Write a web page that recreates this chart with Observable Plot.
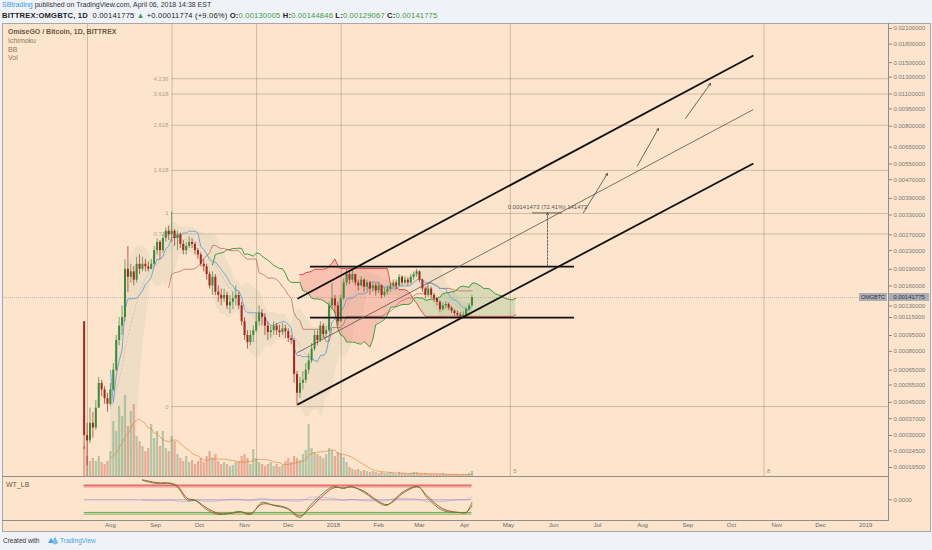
<!DOCTYPE html>
<html><head><meta charset="utf-8">
<script src="https://cdn.jsdelivr.net/npm/d3@7"></script>
<script src="https://cdn.jsdelivr.net/npm/@observablehq/plot@0.6"></script>
<style>
body{margin:0;background:#eff2f7;font-family:"Liberation Sans",Arial,sans-serif;}
#page{position:relative;width:932px;height:550px;overflow:hidden;background:#eff2f7;}
.abs{position:absolute;white-space:nowrap;}
.ln{position:absolute;background:#a7a7a7;}
.g{color:#3f9a3f;}
</style></head><body><div id="page">
<div class="abs" style="left:2px;top:1px;font-size:7px;color:#333"><span style="color:#3d9be0">SBtrading</span> published on TradingView.com, April 06, 2018 14:38 EST</div>
<div class="abs" style="left:2px;top:10.5px;font-size:7.6px;letter-spacing:0.18px;color:#222"><b>BITTREX:OMGBTC, 1D</b>&nbsp; 0.00141775 <span class="g">&#9650;</span> +0.00011774 (+9.06%) <b>O:</b><span class="g">0.00130005</span> <b>H:</b><span class="g">0.00144846</span> <b>L:</b><span class="g">0.00129067</span> <b>C:</b><span class="g">0.00141775</span></div>
<div class="abs" id="panel" style="left:2px;top:23px;width:928px;height:508px;background:#fce5cc;"></div>
<div class="abs" id="vol" style="left:2px;top:386px;"></div>
<div class="abs" id="main" style="left:2px;top:23px;"></div>
<div class="abs" id="ind" style="left:2px;top:476px;"></div>
<div class="ln" style="left:2px;top:23px;width:929px;height:1px"></div>
<div class="ln" style="left:2px;top:23px;width:1px;height:508px"></div>
<div class="ln" style="left:930px;top:23px;width:1px;height:508px"></div>
<div class="ln" style="left:2px;top:531px;width:929px;height:1px"></div>
<div class="ln" style="left:888px;top:23px;width:1px;height:498px;background:#8f8f8f"></div>
<div class="ln" style="left:2px;top:476px;width:887px;height:1px;background:#8f8f8f"></div>
<div class="ln" style="left:2px;top:520px;width:887px;height:1px;background:#8f8f8f"></div>
<div class="abs" style="left:8px;top:28px;font-size:7px;color:#6b5846;font-weight:bold">OmiseGO / Bitcoin, 1D, BITTREX</div>
<div class="abs" style="left:8px;top:37px;font-size:7px;color:#8a7866">Ichimoku</div>
<div class="abs" style="left:8px;top:45.5px;font-size:7px;color:#8a7866">BB</div>
<div class="abs" style="left:8px;top:54px;font-size:7px;color:#8a7866">Vol</div>
<div class="abs" style="left:6px;top:481px;font-size:7px;color:#6b5846">WT_LB</div>
<div class="abs" id="symbox" style="left:859px;width:28px;height:8px;background:#acaeb6;color:#333;font-size:5.5px;line-height:8px;text-align:center">OMGBTC</div>
<div class="abs" id="pricebox" style="left:889px;width:40px;height:8px;background:#acaeb6;color:#333;font-size:6px;line-height:8px;text-align:center">0.00141775</div>
<div class="abs" style="left:3px;top:537px;font-size:6.5px;color:#333">Created with</div>
<svg class="abs" style="left:47px;top:536px" width="12" height="9" viewBox="0 0 12 9"><path d="M1 7 L4 2 L6 5 L8 1 L11 7 Z" fill="#4ba3e0"/><circle cx="8" cy="6" r="2.5" fill="#7cc1ee"/></svg>
<div class="abs" style="left:60px;top:537px;font-size:6.5px;color:#4ba3e0">TradingView</div>
</div>
<script>
// ---------- data (prices in millionths of BTC) ----------
const firstBarDay = -171;   // days from 2018-01-01 of first 2-day bar
const barStep = 2;
const firstOpen = 1100;
const closes = [300,280,350,330,420,560,520,470,440,520,
 650,900,1050,1150,1900,1750,1850,1700,2000,1900,
 2000,1950,1900,2000,2300,2500,2300,2600,2800,2700,
 2800,2600,2700,2450,2300,2400,2500,2450,2300,2200,
 2000,1950,1800,1600,1750,1500,1450,1400,1450,1300,
 1350,1400,1450,1300,1100,950,880,950,1000,1100,
 1200,1150,1050,980,1000,1050,1000,980,1020,990,
 920,900,620,500,560,580,650,720,820,950,
 900,1050,960,1000,1300,1400,1300,1100,1400,1650,
 1800,1700,1800,1650,1600,1700,1580,1650,1550,1600,
 1520,1600,1450,1500,1550,1600,1650,1600,1750,1650,
 1700,1650,1750,1800,1850,1700,1550,1450,1550,1450,
 1400,1350,1250,1300,1320,1270,1230,1200,1180,1160,
 1180,1250,1300,1417.75];
const highs = [1100,350,420,400,460,600,580,540,500,560,
 700,950,1150,1300,2100,2400,2000,1950,2150,2200,
 2150,2100,2050,2100,2400,2600,2550,2700,2900,2950,
 3400,2850,2800,2750,2550,2500,2650,2600,2500,2350,
 2250,2100,2000,1850,1850,1800,1600,1550,1550,1500,
 1450,1500,1600,1500,1350,1150,1000,1000,1050,1200,
 1300,1250,1200,1100,1050,1100,1080,1060,1080,1060,
 1020,950,920,640,600,640,700,780,870,1000,
 1000,1100,1080,1050,1350,1640,1450,1350,1450,1720,
 1900,1850,1880,1800,1700,1760,1720,1700,1680,1650,
 1640,1660,1620,1560,1600,1650,1700,1700,1800,1780,
 1760,1740,1800,1850,1900,1870,1720,1580,1600,1580,
 1480,1420,1370,1340,1360,1340,1290,1250,1230,1210,
 1220,1280,1330,1448.46];
const lows = [250,200,270,290,320,420,480,440,400,430,
 510,640,850,950,1100,1500,1650,1600,1650,1800,
 1850,1850,1850,1900,1950,2200,2100,2250,2500,2550,
 2500,2400,2300,2350,2200,2200,2350,2350,2200,2100,
 1950,1850,1700,1550,1450,1450,1350,1300,1350,1250,
 1200,1250,1300,1250,1050,900,820,850,880,980,
 1050,1050,950,900,920,950,950,930,950,920,
 880,860,560,430,470,520,560,620,700,800,
 850,880,920,920,980,1250,1200,1050,1100,1380,
 1600,1620,1650,1600,1520,1580,1500,1530,1450,1500,
 1440,1480,1400,1420,1460,1500,1560,1540,1580,1600,
 1620,1600,1620,1700,1750,1650,1500,1400,1420,1400,
 1350,1300,1220,1230,1260,1240,1200,1170,1150,1140,
 1140,1160,1230,1290.67];
const volumes = [30,20,15,18,15,20,14,12,15,25,
 55,45,70,60,81,50,65,72,40,35,
 30,25,28,52,38,45,30,45,28,25,
 40,35,22,18,15,20,14,16,12,15,
 18,14,20,25,19,22,15,12,14,12,
 10,11,14,15,20,22,18,12,27,18,
 14,12,10,12,14,10,12,9,11,15,
 18,14,20,18,16,22,26,52,28,24,
 22,20,18,22,28,26,20,24,22,19,
 14,9,7,6,7,5,6,5,4,5,
 4,3,4,3,3,4,3,2,4,3,
 3,2,3,4,4,3,2,3,2,2,
 2,2,2,3,2,2,2,2,2,1,
 2,2,3,5];
const priceTicks = [0.021,0.018,0.015,0.013,0.011,0.0095,0.008,0.0065,0.0055,0.0047,0.0039,0.0033,0.0027,0.0023,0.0019,0.0016,0.0013,0.00115,0.00095,0.0008,0.00065,0.00055,0.00045,0.00037,0.0003,0.000245,0.000195];
const lastPrice = 0.00141775;
// WaveTrend oscillator readings
const wtDays = [-131,-121,-112,-107,-100,-95,-86,-78,-69,-64,-57,-49,-41,-32,-23,-16,-9,0,7,12,21,27,36,41,47,58,64,75,87,91,95];
const wt1 = [81,68,68,52,-3,-3,-45,-62,-53,-49,-62,-11,-24,-37,-74,-24,18,56,47,56,31,5,-24,-3,31,56,10,-45,-53,-53,-11];
const wt2 = [84,72,70,58,5,-1,-38,-58,-56,-50,-58,-18,-22,-34,-68,-35,8,50,50,54,36,10,-20,-8,25,54,18,-38,-54,-54,-25];
const wtLevels = [60,53,0,-53,-60];
// drawings
const fibExtLevels = [0,0.786,1,1.618,2.618,3.618,4.236];
const fibExtLabels = ["0","0.786","1","1.618","2.618","3.618","4.236"];
const fibLow = 0.000428, fibHigh = 0.00335, fibStartDay = -111;
const fibZoneN = [0,1,2,3,5,8];
const fibZoneStartDay = -168.7, fibZoneUnit = 58;
const channel = [
  {d1:-24.7, p1:0.001402, d2:288, p2:0.0161, w:1.8, c:"#111"},
  {d1:-24.7, p1:0.000789, d2:288, p2:0.00944, w:0.8, c:"#5a5048"},
  {d1:-24.7, p1:0.000438, d2:288, p2:0.00552, w:1.8, c:"#111"}
];
const levels = [{p:0.001954, d1:-15.8, d2:165.3},{p:0.00115, d1:-15.8, d2:165.3}];
const measure = {day:146.8, from:0.001954, to:0.003368, tickFrom:136.5, tickTo:157, label:"0.00141473 (72.41%) 141473"};
const arrows = [
  {d1:171.5,p1:0.00338,d2:187.9,p2:0.0050},
  {d1:208.5,p1:0.00541,d2:222.9,p2:0.00782},
  {d1:241.4,p1:0.00864,d2:258.6,p2:0.01221}
];
const monthTicks = ["2017-08-01","2017-09-01","2017-10-01","2017-11-01","2017-12-01","2018-01-01","2018-02-01","2018-03-01","2018-04-01","2018-05-01","2018-06-01","2018-07-01","2018-08-01","2018-09-01","2018-10-01","2018-11-01","2018-12-01","2019-01-01"];
const monthLabels = ["Aug","Sep","Oct","Nov","Dec","2018","Feb","Mar","Apr","May","Jun","Jul","Aug","Sep","Oct","Nov","Dec","2019"];

// ---------- derived ----------
const DAY = 864e5, T0 = Date.UTC(2018,0,1);
const toDate = d => new Date(T0 + d*DAY);
const xStart = new Date(Date.UTC(2017,4,19)), xEnd = new Date(Date.UTC(2019,0,16,16));
const U = 1e-6;
const bars = closes.map((c,i)=>{const o=i===0?firstOpen:closes[i-1];return {date:toDate(firstBarDay+i*barStep),open:o*U,close:c*U,high:highs[i]*U,low:lows[i]*U,vol:volumes[i],up:c>=o};});
function mid(i,p){if(i<p-1)return null;let hi=-Infinity,lo=Infinity;for(let k=i-p+1;k<=i;k++){hi=Math.max(hi,bars[k].high);lo=Math.min(lo,bars[k].low);}return (hi+lo)/2;}
// Ichimoku (20,60,120,30 days) on 2-day bars
const ichi = bars.map((b,i)=>({date:b.date,tenkan:mid(i,10),kijun:mid(i,30)}));
const lead = bars.map((b,i)=>{const t=mid(i,10),k=mid(i,30),sb=mid(i,60);return {date:toDate(firstBarDay+(i+15)*barStep),a:(t!=null&&k!=null)?(t+k)/2:null,b:sb};});
const leadA = lead.filter(d=>d.a!=null), leadB = lead.filter(d=>d.b!=null);
const cloud = lead.filter(d=>d.a!=null&&d.b!=null).map(d=>({...d,mx:Math.max(d.a,d.b)}));
// Bollinger (20 days, 2 sd)
const bb = [];
bars.forEach((b,i)=>{if(i<9)return;const w=bars.slice(i-9,i+1).map(d=>d.close);const m=d3.mean(w);const s=Math.sqrt(d3.mean(w,v=>(v-m)*(v-m)));bb.push({date:b.date,m,up:m+2*s,lo:Math.max(m-2*s,1e-6)});});
// volume MA
const vma = bars.map((b,i)=>i<9?null:{date:b.date,v:d3.mean(bars.slice(i-9,i+1),d=>d.vol)}).filter(Boolean);
const fibLines = fibExtLevels.map((L,i)=>({p:fibLow+L*(fibHigh-fibLow),label:fibExtLabels[i]}));
const fibZones = fibZoneN.map(n=>({n,date:toDate(fibZoneStartDay+n*fibZoneUnit)}));
const wt = wtDays.map((d,i)=>({date:toDate(d),w1:wt1[i],w2:wt2[i],df:wt1[i]-wt2[i]}));

const upC="#3c8a3a", dnC="#a3261f";
const font = "Liberation Sans, Arial, sans-serif";
const fibC = "#8c7b6a";

const main = Plot.plot({
  width:928, height:453, marginLeft:0, marginRight:42, marginTop:0, marginBottom:0,
  style:{background:"transparent",fontFamily:font,color:"#7a7a7a",overflow:"visible"},
  x:{type:"utc",domain:[xStart,xEnd],axis:null},
  y:{type:"symlog",constant:0.00009,domain:[0.000171,0.02206],range:[453,0],axis:null},
  marks:[
    Plot.ruleX(fibZones,{x:"date",stroke:fibC,strokeOpacity:0.4,strokeWidth:1}),
    Plot.ruleY(fibLines,{y:"p",x1:()=>toDate(fibStartDay),x2:()=>xEnd,stroke:fibC,strokeOpacity:0.4,strokeWidth:1}),
    Plot.text(fibLines,{x:()=>toDate(fibStartDay),y:"p",text:"label",textAnchor:"end",dx:-3,fill:"#b3a391",fontSize:6}),
    Plot.text(fibZones.filter(d=>d.n>=5),{x:"date",text:d=>String(d.n),frameAnchor:"bottom",dy:-4,dx:3,textAnchor:"start",fill:"#9d8d7d",fontSize:6}),
    Plot.ruleY([lastPrice],{stroke:"#9a9aa2",strokeOpacity:0.6,strokeDasharray:"1,1"}),
    Plot.areaY(bb,{x:"date",y1:"lo",y2:"up",fill:"#a3a89a",fillOpacity:0.13,curve:"monotone-x",clip:true}),
    Plot.line(bb,{x:"date",y:"m",stroke:"#a09080",strokeOpacity:0.35,strokeDasharray:"2,2",strokeWidth:0.8,clip:true}),
    Plot.areaY(cloud,{x:"date",y1:"b",y2:"mx",fill:"#5aa85a",fillOpacity:0.2}),
    Plot.areaY(cloud,{x:"date",y1:"a",y2:"mx",fill:"#f05a5a",fillOpacity:0.25}),
    Plot.line(leadA,{x:"date",y:"a",stroke:"#3d9a3d",strokeWidth:1}),
    Plot.line(leadB,{x:"date",y:"b",stroke:"#e04040",strokeWidth:0.9}),
    Plot.line(ichi.filter(d=>d.kijun!=null),{x:"date",y:"kijun",stroke:"#b0605a",strokeWidth:0.7}),
    Plot.line(ichi.filter(d=>d.tenkan!=null),{x:"date",y:"tenkan",stroke:"#5b9bd5",strokeWidth:0.8}),
    Plot.ruleX(bars,{x:"date",y1:"low",y2:"high",stroke:d=>d.up?upC:dnC,strokeWidth:0.7}),
    Plot.ruleX(bars,{x:"date",y1:"open",y2:"close",stroke:d=>d.up?upC:dnC,strokeWidth:2}),
    Plot.ruleY(levels,{y:"p",x1:d=>toDate(d.d1),x2:d=>toDate(d.d2),stroke:"#111",strokeWidth:1.8}),
    Plot.link(channel,{x1:d=>toDate(d.d1),y1:"p1",x2:d=>toDate(d.d2),y2:"p2",stroke:"c",strokeWidth:"w"}),
    Plot.arrow([measure],{x1:d=>toDate(d.day),y1:"from",x2:d=>toDate(d.day),y2:"to",stroke:"#444",strokeWidth:0.8,strokeDasharray:"2,1.5",headLength:4}),
    Plot.ruleY([measure],{y:"to",x1:d=>toDate(d.tickFrom),x2:d=>toDate(d.tickTo),stroke:"#444",strokeWidth:0.8}),
    Plot.text([measure],{x:d=>toDate(d.day),y:"to",text:"label",dy:-6,fill:"#555",fontSize:6}),
    Plot.arrow(arrows,{x1:d=>toDate(d.d1),y1:"p1",x2:d=>toDate(d.d2),y2:"p2",stroke:"#4a4440",strokeWidth:0.8,headLength:4}),
    Plot.axisY({anchor:"right",ticks:priceTicks,tickFormat:d=>d.toFixed(8),tickSize:3,tickPadding:2,fontSize:6,stroke:"#888"})
  ]
});
document.getElementById("main").appendChild(main);

const vol = Plot.plot({
  width:928, height:90, marginLeft:0, marginRight:42, marginTop:0, marginBottom:0,
  style:{background:"transparent",overflow:"visible"},
  x:{type:"utc",domain:[xStart,xEnd],axis:null},
  y:{domain:[0,90],axis:null},
  marks:[
    Plot.ruleX(bars,{x:"date",y1:0,y2:"vol",stroke:d=>d.up?"#6aa57a":"#d4705e",strokeOpacity:0.5,strokeWidth:2.2}),
    Plot.line(vma,{x:"date",y:"v",stroke:"#e8803a",strokeWidth:0.8,strokeOpacity:0.8})
  ]
});
document.getElementById("vol").appendChild(vol);

const ind = Plot.plot({
  width:928, height:55, marginLeft:0, marginRight:42, marginTop:0, marginBottom:11,
  style:{background:"transparent",fontFamily:font,color:"#777",overflow:"visible"},
  x:{type:"utc",domain:[xStart,xEnd],axis:null},
  y:{domain:[-86.9,97.8],axis:null},
  marks:[
    Plot.ruleY(wtLevels,{y:d=>d,x1:()=>toDate(firstBarDay),x2:()=>toDate(95),
      stroke:d=>d>0?(d===60?"#e86a6a":"#f0a8a0"):d<0?"#6fae55":"#b7a6c8",strokeWidth:d=>d===60?2:1}),
    Plot.line(wt,{x:"date",y:"df",stroke:"#9b8fd6",strokeOpacity:0.6,strokeWidth:0.7,curve:"catmull-rom"}),
    Plot.line(wt,{x:"date",y:"w2",stroke:"#c0392b",strokeWidth:0.9,curve:"catmull-rom"}),
    Plot.line(wt,{x:"date",y:"w1",stroke:"#4f8f3a",strokeWidth:0.9,curve:"catmull-rom"}),
    Plot.axisY({anchor:"right",ticks:[0],tickFormat:d=>d.toFixed(4),tickSize:3,tickPadding:2,fontSize:6,stroke:"#888"}),
    Plot.text(monthTicks,{x:d=>new Date(d+"T00:00Z"),text:(d,i)=>monthLabels[i],frameAnchor:"bottom",dy:6,fontSize:6,fill:"#666"})
  ]
});
document.getElementById("ind").appendChild(ind);

// last-price labels positioned through the y scale
const yPx = main.scale("y").apply(lastPrice) + 23;
document.getElementById("symbox").style.top = (yPx-4)+"px";
document.getElementById("pricebox").style.top = (yPx-4)+"px";
</script>
</body></html>
